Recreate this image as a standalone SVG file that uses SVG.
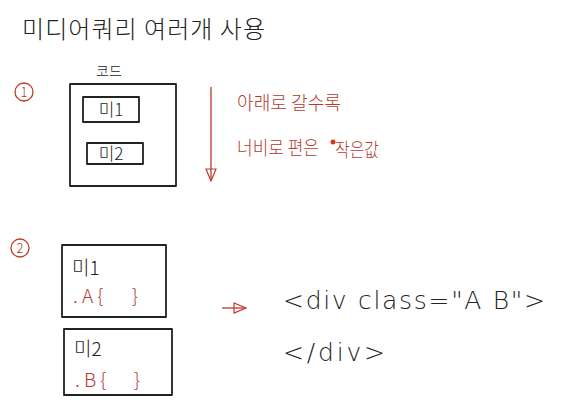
<svg xmlns="http://www.w3.org/2000/svg" width="586" height="416" viewBox="0 0 586 416">
<style>
text{font-family:"Noto Sans CJK KR","Noto Sans",sans-serif;font-weight:300}
.k{fill:#222}
.r{fill:#b23a2e}
.m{font-family:"DejaVu Sans",sans-serif;font-weight:200}
.bx{fill:none;stroke:#222;stroke-width:1.8;stroke-linejoin:round}
.rl{fill:none;stroke:#c0392b;stroke-width:1.3}
</style>
<defs>
<marker id="tri" viewBox="0 0 14 12" refX="12" refY="6" markerWidth="14" markerHeight="12" markerUnits="userSpaceOnUse" orient="auto">
<path d="M1,1 L13,6 L1,11 Z" fill="none" stroke="#c0392b" stroke-width="1.2"/>
</marker>
</defs>
<rect width="586" height="416" fill="#fff"/>
<text class="k" x="22" y="38" font-size="24" textLength="243" lengthAdjust="spacing">미디어쿼리 여러개 사용</text>

<g id="step1">
<circle cx="24" cy="92" r="9" fill="none" stroke="#c0392b" stroke-width="1.3"/>
<text x="24" y="97" font-size="13" text-anchor="middle" class="r">1</text>
</g>
<g id="code-box">
<text class="k" x="96" y="76" font-size="14">코드</text>
<rect class="bx" x="70" y="84" width="106" height="102"/>
</g>
<g id="mq1">
<rect class="bx" x="83" y="97" width="56" height="25"/>
<text class="k" x="111" y="116" font-size="17" text-anchor="middle">미1</text>
</g>
<g id="mq2">
<rect class="bx" x="87" y="143" width="56" height="21"/>
<text class="k" x="111" y="160" font-size="17" text-anchor="middle">미2</text>
</g>
<g id="note1">
<text class="r" x="237" y="110" font-size="19" textLength="104" lengthAdjust="spacingAndGlyphs">아래로 갈수록</text>
<text class="r" x="237" y="155" font-size="19" textLength="82" lengthAdjust="spacingAndGlyphs">너비로 편은</text>
<circle cx="333" cy="142" r="2.5" fill="#e03020"/>
<text class="r" x="335" y="157" font-size="19" textLength="44" lengthAdjust="spacingAndGlyphs">작은값</text>
</g>

<g id="step2">
<circle cx="20" cy="248" r="9" fill="none" stroke="#c0392b" stroke-width="1.3"/>
<text x="20" y="253" font-size="13" text-anchor="middle" class="r">2</text>
</g>
<g id="boxA">
<rect class="bx" x="62" y="245" width="104" height="72"/>
<text class="k" x="72" y="275" font-size="19">미1</text>
<text class="r" x="73" y="303" font-size="19">. A {</text>
<text class="r" x="132" y="303" font-size="19">}</text>
</g>
<g id="boxB">
<rect class="bx" x="64" y="329" width="108" height="66"/>
<text class="k" x="74" y="356" font-size="19">미2</text>
<text class="r" x="75" y="387" font-size="19">. B {</text>
<text class="r" x="134" y="387" font-size="19">}</text>
</g>
<g id="html">
<text class="k m" x="283" y="309" font-size="25" textLength="262" lengthAdjust="spacing">&lt;div class="A B"&gt;</text>
<text class="k m" x="283" y="361" font-size="25" textLength="102" lengthAdjust="spacing">&lt;/div&gt;</text>
</g>

<g id="connectors">
<line class="rl" x1="211" y1="87" x2="211" y2="180" marker-end="url(#tri)"/>
<line class="rl" x1="222" y1="308" x2="245" y2="308" marker-end="url(#tri)"/>
</g>
</svg>
